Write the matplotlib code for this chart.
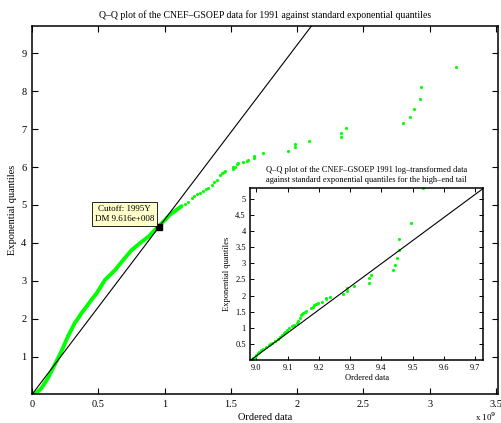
import matplotlib
matplotlib.use("Agg")
from matplotlib import pyplot as plt

plt.rcParams['font.family'] = ['Liberation Serif', 'DejaVu Serif']

# main Q-Q plot, x in units of 1e9
body_x = [0.0, 0.02, 0.07, 0.12, 0.171, 0.221, 0.271, 0.322, 0.349, 0.372, 0.412, 0.447,
          0.488, 0.55, 0.626, 0.689, 0.752, 0.814, 0.877, 0.953, 1.003, 1.04, 1.091, 1.129]
body_y = [0.0, 0.0, 0.16, 0.43, 0.78, 1.13, 1.53, 1.88, 2.01, 2.14, 2.32, 2.49,
          2.67, 3.02, 3.28, 3.55, 3.81, 3.99, 4.16, 4.43, 4.60, 4.74, 4.87, 4.97]
tail_x = [1.155, 1.179, 1.204, 1.225, 1.242, 1.265, 1.292, 1.31, 1.33, 1.355, 1.375, 1.393,
          1.418, 1.43, 1.448, 1.455, 1.513, 1.518, 1.531, 1.544, 1.556, 1.589, 1.619, 1.631,
          1.674, 1.674, 1.744, 1.933, 1.983, 1.983, 2.09, 2.333, 2.333, 2.373, 2.798, 2.856,
          2.886, 2.931, 2.934, 3.203, 3.514]
tail_y = [5.03, 5.09, 5.18, 5.23, 5.28, 5.32, 5.38, 5.41, 5.44, 5.53, 5.6, 5.66,
          5.79, 5.84, 5.88, 5.9, 5.95, 6.0, 6.01, 6.07, 6.1, 6.13, 6.17, 6.19,
          6.25, 6.30, 6.36, 6.43, 6.52, 6.60, 6.69, 6.79, 6.90, 7.02, 7.17, 7.33,
          7.53, 7.79, 8.12, 8.63, 9.72]
cutoff_x, cutoff_y = 0.9616, 4.43
ref_slope = 4.61

# inset: log10 of tail data
log_x = [8.985, 8.99, 8.995, 9.0, 9.005, 9.01, 9.015, 9.02, 9.03, 9.04, 9.045, 9.05, 9.06,
         9.07, 9.077, 9.083, 9.088, 9.093, 9.098, 9.105, 9.113, 9.12, 9.129, 9.135, 9.14,
         9.144, 9.147, 9.15, 9.155, 9.16, 9.175, 9.18, 9.186, 9.19, 9.196, 9.211, 9.222,
         9.224, 9.237, 9.278, 9.29, 9.291, 9.314, 9.359, 9.359, 9.368, 9.436, 9.444,
         9.449, 9.458, 9.457, 9.495, 9.534]
log_y = [0.0, 0.05, 0.1, 0.16, 0.21, 0.26, 0.3, 0.33, 0.41, 0.46, 0.5, 0.53, 0.59,
         0.66, 0.72, 0.78, 0.83, 0.88, 0.93, 0.98, 1.04, 1.1, 1.16, 1.22, 1.3,
         1.40, 1.43, 1.45, 1.48, 1.51, 1.60, 1.65, 1.71, 1.73, 1.76, 1.81, 1.89,
         1.93, 1.97, 2.05, 2.14, 2.22, 2.31, 2.40, 2.53, 2.64, 2.80, 2.96,
         3.16, 3.42, 3.75, 4.26, 5.35]
log_start = 8.983
log_slope = 7.17

green = '#00ff00'

fig = plt.figure(figsize=(5.02, 4.23), dpi=100)
ax = fig.add_axes([0.0637, 0.0674, 0.928, 0.871])
ax.plot(body_x, body_y, color=green, lw=2.8, solid_capstyle='round')
ax.plot(tail_x, tail_y, '.', color=green, ms=2.5)
ax.axline((0, 0), slope=ref_slope, color='k', lw=0.8)
ax.annotate('Cutoff: 1995Y\nDM 9.616e+008', xy=(cutoff_x, cutoff_y),
            xytext=(-3.5, 2.5), textcoords='offset points', ha='right', va='bottom',
            fontsize=6.5, linespacing=1.35, multialignment='center',
            bbox=dict(boxstyle='square,pad=0.3', fc='#ffffcc', ec='k', lw=0.6))
ax.plot(cutoff_x, cutoff_y, 's', color='k', ms=5)
ax.set_xlim(0, 3.515)
ax.set_ylim(0, 9.72)
ax.set_xticks([0, 0.5, 1, 1.5, 2, 2.5, 3, 3.5])
ax.set_xticklabels(['0', '0.5', '1', '1.5', '2', '2.5', '3', '3.5'])
ax.set_yticks([1, 2, 3, 4, 5, 6, 7, 8, 9])
ax.tick_params(direction='in', top=True, right=True, labelsize=7.5, length=4, width=0.8, pad=4)
for s in ax.spines.values():
    s.set_linewidth(1.1)
ax.set_xlabel('Ordered data', fontsize=7.5, labelpad=3)
ax.set_ylabel('Exponential quantiles', fontsize=7.5, labelpad=3)
ax.set_title('Q\u2013Q plot of the CNEF\u2013GSOEP data for 1991 against standard exponential quantiles',
             fontsize=7, pad=6)
fig.text(0.946, 0.0, r'x 10$^{9}$', fontsize=6.5, ha='left', va='bottom')

ins = fig.add_axes([0.498, 0.149, 0.4647, 0.4073])
ins.plot(log_x, log_y, '.', color=green, ms=2.5)
ins.axline((log_start, 0), slope=log_slope, color='k', lw=0.8)
ins.set_xlim(8.98, 9.726)
ins.set_ylim(0, 5.35)
ins.set_xticks([9, 9.1, 9.2, 9.3, 9.4, 9.5, 9.6, 9.7])
ins.set_yticks([0.5, 1, 1.5, 2, 2.5, 3, 3.5, 4, 4.5, 5])
ins.set_yticklabels(['0.5', '1', '1.5', '2', '2.5', '3', '3.5', '4', '4.5', '5'])
ins.tick_params(direction='in', top=True, right=True, labelsize=6, length=3, width=0.7, pad=3)
for s in ins.spines.values():
    s.set_linewidth(1.1)
ins.set_xlabel('Ordered data', fontsize=6, labelpad=1)
ins.set_ylabel('Exponential quantiles', fontsize=6, labelpad=3)
ins.set_title('Q\u2013Q plot of the CNEF\u2013GSOEP 1991 log\u2013transformed data\n'
              'against standard exponential quantiles for the high\u2013end tail',
              fontsize=6, pad=4, linespacing=1.3)

fig.savefig('out.png', dpi=100)
